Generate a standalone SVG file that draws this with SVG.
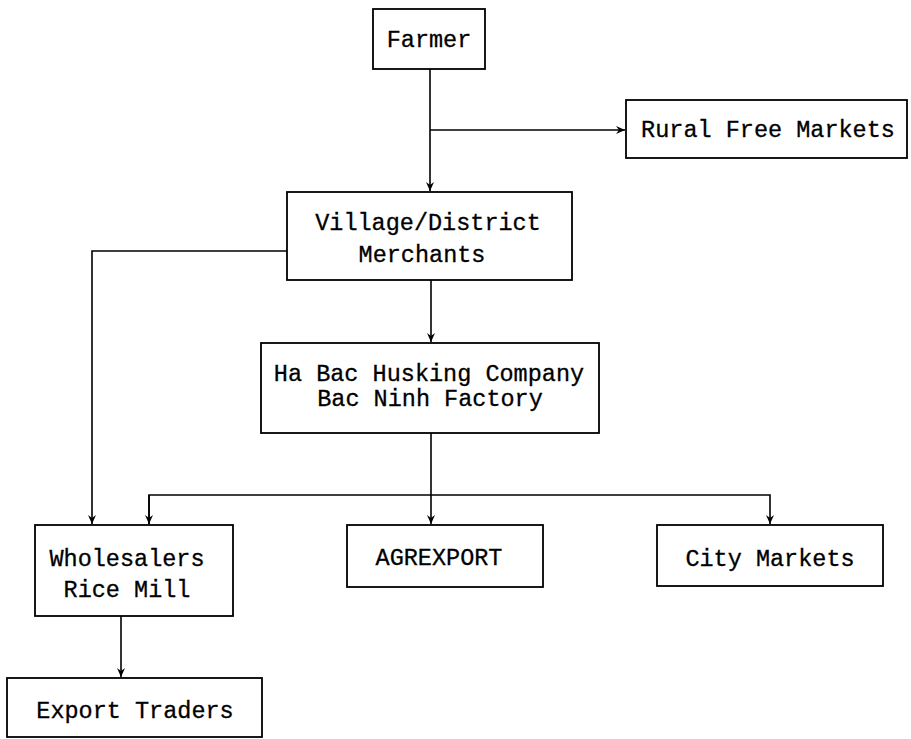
<svg xmlns="http://www.w3.org/2000/svg" width="911" height="739" viewBox="0 0 911 739">
<style>
.box{fill:#fff;stroke:#000;stroke-width:1.8}
.lbl{font-family:"Liberation Mono","Courier New",monospace;font-size:23.5px;fill:#000;stroke:#000;stroke-width:0.3;text-anchor:middle}
.ln{fill:none;stroke:#000;stroke-width:1.6}
</style>
<defs>
<marker id="ah" markerWidth="10" markerHeight="10" refX="9" refY="5" orient="auto" markerUnits="userSpaceOnUse">
<path d="M0,1 L9,5 L0,9 L3,5 Z" fill="#000"/>
</marker>
</defs>
<rect width="911" height="739" fill="#fff"/>
<g id="connectors">
<path class="ln" d="M430,69 V191" marker-end="url(#ah)"/>
<path class="ln" d="M430,130 H625" marker-end="url(#ah)"/>
<path class="ln" d="M431,280 V342" marker-end="url(#ah)"/>
<path class="ln" d="M287,251 H92 V524" marker-end="url(#ah)"/>
<path class="ln" d="M431,433 V524" marker-end="url(#ah)"/>
<path class="ln" d="M149,524 V495 H770 V524" marker-end="url(#ah)"/>
<path class="ln" d="M149,495 V524" marker-end="url(#ah)"/>
<path class="ln" d="M121,616 V677" marker-end="url(#ah)"/>
</g>
<g id="farmer">
<rect class="box" x="373" y="9" width="112" height="60"/>
<text class="lbl" x="429" y="47">Farmer</text>
</g>
<g id="rural">
<rect class="box" x="626" y="100" width="281" height="58"/>
<text class="lbl" x="768" y="137">Rural Free Markets</text>
</g>
<g id="village">
<rect class="box" x="287" y="192" width="285" height="88"/>
<text class="lbl" x="428" y="230">Village/District</text>
<text class="lbl" x="422" y="262">Merchants</text>
</g>
<g id="habac">
<rect class="box" x="261" y="343" width="338" height="90"/>
<text class="lbl" x="429" y="381">Ha Bac Husking Company</text>
<text class="lbl" x="430" y="406">Bac Ninh Factory</text>
</g>
<g id="wholesalers">
<rect class="box" x="35" y="525" width="198" height="91"/>
<text class="lbl" x="127" y="566">Wholesalers</text>
<text class="lbl" x="127" y="597">Rice Mill</text>
</g>
<g id="agrexport">
<rect class="box" x="347" y="525" width="196" height="62"/>
<text class="lbl" x="439" y="565">AGREXPORT</text>
</g>
<g id="city">
<rect class="box" x="657" y="525" width="226" height="61"/>
<text class="lbl" x="770" y="566">City Markets</text>
</g>
<g id="export">
<rect class="box" x="7" y="678" width="255" height="59"/>
<text class="lbl" x="135" y="718">Export Traders</text>
</g>
</svg>
